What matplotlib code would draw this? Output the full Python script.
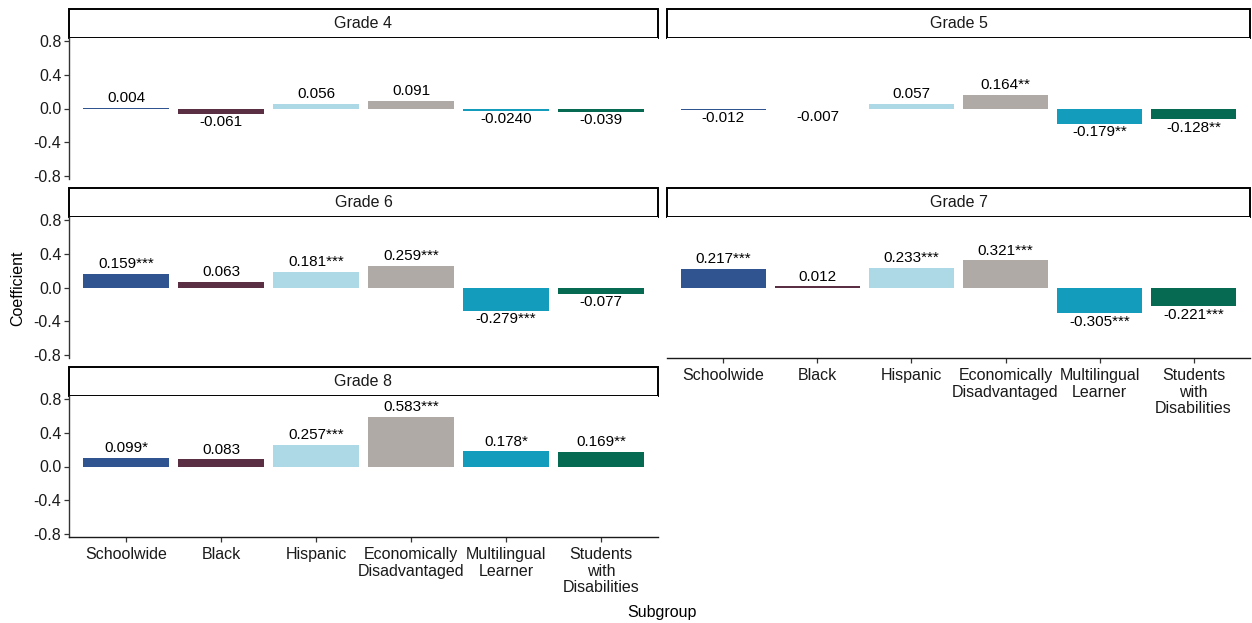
import matplotlib
matplotlib.use("Agg")
import matplotlib.pyplot as plt
from matplotlib.patches import Rectangle

plt.rcParams['font.family'] = ['Liberation Sans', 'DejaVu Sans']

subgroups = ["Schoolwide", "Black", "Hispanic", "Economically\nDisadvantaged",
             "Multilingual\nLearner", "Students\nwith\nDisabilities"]
colors = ["#30548F", "#5A2E43", "#ADD8E6", "#AFAAA6", "#149CBD", "#056A51"]
yticks = [-0.8, -0.4, 0.0, 0.4, 0.8]
ytick_labels = ["-0.8", "-0.4", "0.0", "0.4", "0.8"]

grade4_vals = [0.004, -0.061, 0.056, 0.091, -0.024, -0.039]
grade4_labels = ["0.004", "-0.061", "0.056", "0.091", "-0.0240", "-0.039"]
grade5_vals = [-0.012, -0.007, 0.057, 0.164, -0.179, -0.128]
grade5_labels = ["-0.012", "-0.007", "0.057", "0.164**", "-0.179**", "-0.128**"]
grade6_vals = [0.159, 0.063, 0.181, 0.259, -0.279, -0.077]
grade6_labels = ["0.159***", "0.063", "0.181***", "0.259***", "-0.279***", "-0.077"]
grade7_vals = [0.217, 0.012, 0.233, 0.321, -0.305, -0.221]
grade7_labels = ["0.217***", "0.012", "0.233***", "0.321***", "-0.305***", "-0.221***"]
grade8_vals = [0.099, 0.083, 0.257, 0.583, 0.178, 0.169]
grade8_labels = ["0.099*", "0.083", "0.257***", "0.583***", "0.178*", "0.169**"]

W, H, DPI = 1252, 623, 100
fig = plt.figure(figsize=(W / DPI, H / DPI), dpi=DPI)


def rect(x0, y0, x1, y1):
    return [x0 / W, 1 - y1 / H, (x1 - x0) / W, (y1 - y0) / H]


cols = [(69, 658), (667, 1250)]
rows = [(9, 38, 179), (188, 217, 358), (367, 396, 537)]

panels = [
    ("Grade 4", grade4_vals, grade4_labels, 0, 0, True, False),
    ("Grade 5", grade5_vals, grade5_labels, 0, 1, False, False),
    ("Grade 6", grade6_vals, grade6_labels, 1, 0, True, False),
    ("Grade 7", grade7_vals, grade7_labels, 1, 1, False, True),
    ("Grade 8", grade8_vals, grade8_labels, 2, 0, True, True),
]

for title, vals, labels, r, c, show_y, show_x in panels:
    x0, x1 = cols[c]
    st, pt, pb = rows[r]
    # strip
    sax = fig.add_axes(rect(x0, st, x1, pt))
    sax.set_xlim(0, 1)
    sax.set_ylim(0, 1)
    sax.axis("off")
    sax.add_patch(Rectangle((0, 0), 1, 1, facecolor="white", edgecolor="black",
                            linewidth=1.4, transform=sax.transAxes, clip_on=False))
    sax.text(0.5, 0.5, title, ha="center", va="center", fontsize=11.5, color="#1a1a1a")

    ax = fig.add_axes(rect(x0, pt, x1, pb))
    xs = list(range(len(subgroups)))
    ax.bar(xs, vals, width=0.9, color=colors, linewidth=0)
    ax.set_xlim(-0.6, 5.6)
    ax.set_ylim(-0.835, 0.835)
    for xi, v, lab in zip(xs, vals, labels):
        if v >= 0:
            ax.annotate(lab, (xi, v), xytext=(0, 2), textcoords="offset points",
                        ha="center", va="bottom", fontsize=11, color="black",
                        annotation_clip=False)
        else:
            ax.annotate(lab, (xi, v), xytext=(0, -1), textcoords="offset points",
                        ha="center", va="top", fontsize=11, color="black",
                        annotation_clip=False)
    for s in ["top", "right"]:
        ax.spines[s].set_visible(False)
    if show_y:
        ax.set_yticks(yticks)
        ax.set_yticklabels(ytick_labels, fontsize=11.5, color="#1a1a1a")
        ax.spines["left"].set_color("#333333")
        ax.spines["left"].set_linewidth(1.0)
        ax.tick_params(axis="y", length=3.5, width=0.9, color="#333333", pad=2)
    else:
        ax.spines["left"].set_visible(False)
        ax.set_yticks([])
    if show_x:
        ax.set_xticks(xs)
        ax.set_xticklabels(subgroups, fontsize=11.5, color="#1a1a1a", linespacing=1.1)
        ax.spines["bottom"].set_color("#1a1a1a")
        ax.spines["bottom"].set_linewidth(1.0)
        ax.tick_params(axis="x", length=3.5, width=0.9, color="#333333", pad=4)
    else:
        ax.spines["bottom"].set_visible(False)
        ax.set_xticks([])

fig.text(18 / W, 1 - 288 / H, "Coefficient", rotation=90, ha="center", va="center",
         fontsize=11.5, color="black")
fig.text(662 / W, 1 - 612 / H, "Subgroup", ha="center", va="center",
         fontsize=11.5, color="black")

fig.savefig("out.png", dpi=DPI, facecolor="white")
